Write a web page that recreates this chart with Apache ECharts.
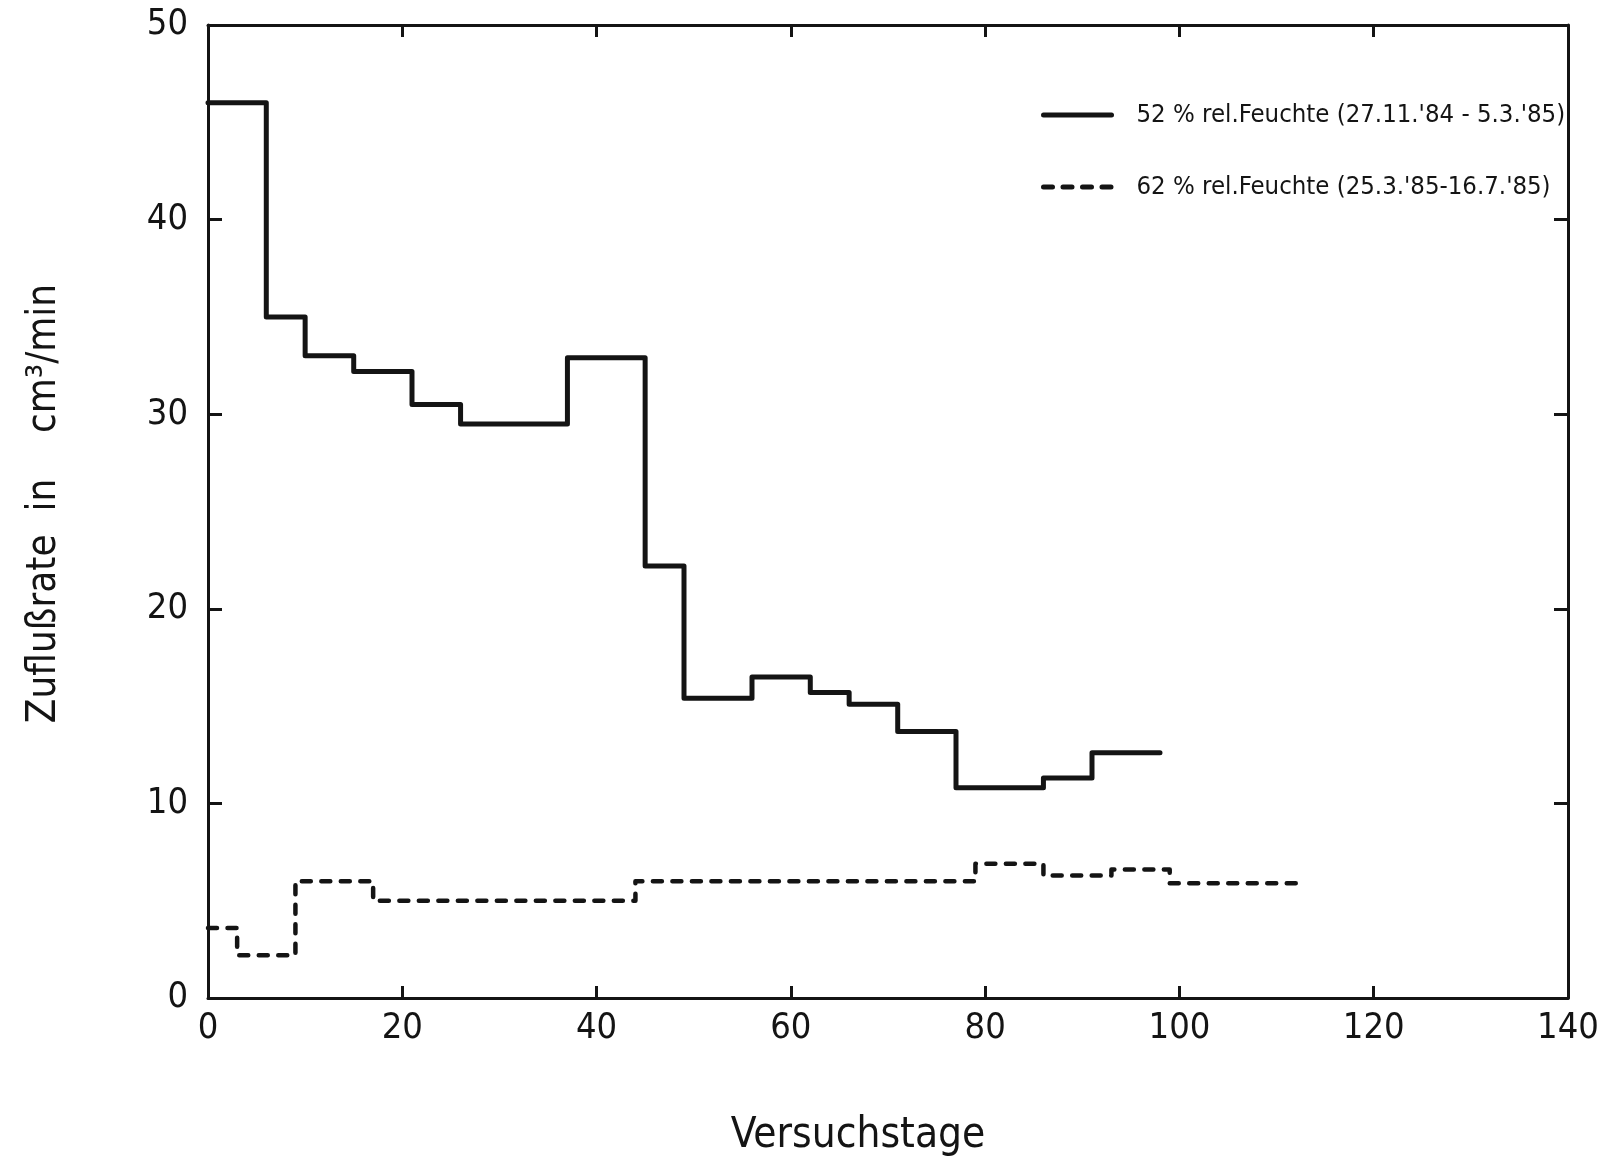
<!DOCTYPE html>
<html>
<head>
<meta charset="utf-8">
<script src="https://cdn.jsdelivr.net/npm/echarts@6/dist/echarts.min.js"></script>
<style>
    html, body { margin: 0; padding: 0; background: #fff; }
    #chart { width: 1602px; height: 1163px; }
</style>
</head>
<body>
<div id="chart"></div>
<script>
    // Stufen: Beginn jeder Stufe (Versuchstag) und Zuflussrate
    const solidEdges = [0, 6, 10, 15, 21, 26, 37, 45, 49, 56, 62, 66, 71, 77, 86, 91, 98];
    const solidRates = [46, 35, 33, 32.2, 30.5, 29.5, 32.9, 22.2, 15.4, 16.5, 15.7, 15.1, 13.7, 10.8, 11.3, 12.6];
    const dashEdges = [0, 3, 9, 17, 44, 79, 86, 93, 99, 113];
    const dashRates = [3.6, 2.2, 6.0, 5.0, 6.0, 6.9, 6.3, 6.6, 5.9];
    const xTicks = [0, 20, 40, 60, 80, 100, 120, 140];
    const yTicks = [0, 10, 20, 30, 40, 50];

    const legend52 = "52 % rel.Feuchte (27.11.'84 - 5.3.'85)";
    const legend62 = "62 % rel.Feuchte (25.3.'85-16.7.'85)";

    function stepData(edges, rates) {
        let d = rates.map((r, i) => [edges[i], r]);
        d.push([edges[edges.length - 1], rates[rates.length - 1]]);
        return d;
    }

    const font = '"DejaVu Sans Condensed", "DejaVu Sans"';
    const ink = '#141414';

    let chart = echarts.init(document.getElementById('chart'));
    chart.setOption({
        backgroundColor: '#fff',
        animation: false,
        textStyle: {fontFamily: font, color: ink},
        grid: {left: 208, right: 34, top: 25, bottom: 165},
        legend: {
            left: 1036,
            top: 97,
            orient: 'vertical',
            itemWidth: 68,
            itemHeight: 20,
            itemGap: 46,
            itemStyle: {opacity: 0},
            lineStyle: {width: 5},
            textStyle: {fontFamily: font, fontSize: 25.5, color: ink, padding: [0, 0, 0, 20]},
            data: [legend52, legend62]
        },
        xAxis: [
            {
                type: 'value',
                min: xTicks[0],
                max: xTicks[xTicks.length - 1],
                interval: 20,
                name: 'Versuchstage',
                nameLocation: 'middle',
                nameGap: 117,
                nameTextStyle: {fontFamily: font, fontSize: 42, color: ink, padding: [0, 60, 0, 0]},
                axisLine: {onZero: false, lineStyle: {color: ink, width: 3}},
                axisTick: {inside: true, length: 12, lineStyle: {color: ink, width: 3}},
                axisLabel: {fontFamily: font, fontSize: 36, color: ink, margin: 13},
                splitLine: {show: false}
            },
            {
                type: 'value',
                position: 'top',
                min: xTicks[0],
                max: xTicks[xTicks.length - 1],
                interval: 20,
                axisLine: {show: true, onZero: false, lineStyle: {color: ink, width: 3}},
                axisTick: {show: true, inside: true, length: 12, lineStyle: {color: ink, width: 3}},
                axisLabel: {show: false},
                splitLine: {show: false}
            }
        ],
        yAxis: [
            {
                type: 'value',
                min: yTicks[0],
                max: yTicks[yTicks.length - 1],
                interval: 10,
                name: 'Zuflußrate  in    cm³/min',
                nameLocation: 'middle',
                nameGap: 143,
                nameTextStyle: {fontFamily: font, fontSize: 40, color: ink, padding: [0, 0, 0, 16]},
                axisLine: {onZero: false, lineStyle: {color: ink, width: 3}},
                axisTick: {inside: true, length: 14, lineStyle: {color: ink, width: 3}},
                axisLabel: {fontFamily: font, fontSize: 36, color: ink, margin: 20},
                splitLine: {show: false}
            },
            {
                type: 'value',
                position: 'right',
                min: yTicks[0],
                max: yTicks[yTicks.length - 1],
                interval: 10,
                axisLine: {show: true, onZero: false, lineStyle: {color: ink, width: 3}},
                axisTick: {show: true, inside: true, length: 14, lineStyle: {color: ink, width: 3}},
                axisLabel: {show: false},
                splitLine: {show: false}
            }
        ],
        series: [
            {
                name: legend52,
                type: 'line',
                step: 'end',
                symbol: 'none',
                color: ink,
                lineStyle: {color: ink, width: 5, join: 'round', cap: 'round'},
                data: stepData(solidEdges, solidRates)
            },
            {
                name: legend62,
                type: 'line',
                step: 'end',
                symbol: 'none',
                color: ink,
                lineStyle: {color: ink, width: 4.5, type: [9, 10.5], cap: 'round', join: 'round'},
                data: stepData(dashEdges, dashRates)
            }
        ]
    });
</script>
</body>
</html>
